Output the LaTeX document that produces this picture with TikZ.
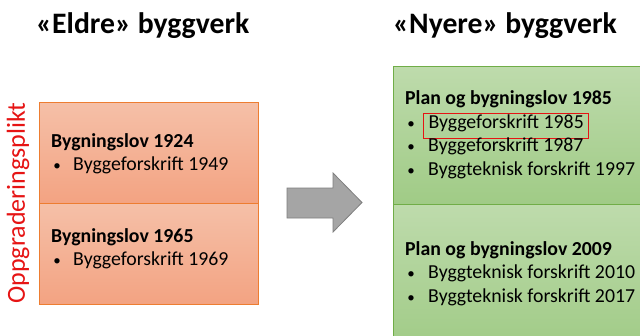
\documentclass[tikz,border=0pt]{standalone}
\usepackage{fontspec}
\setmainfont{Carlito}
\definecolor{orfill1}{RGB}{245,192,168}
\definecolor{orfill2}{RGB}{243,163,130}
\definecolor{orline}{RGB}{237,125,49}
\definecolor{grfill1}{RGB}{190,219,172}
\definecolor{grfill2}{RGB}{160,203,134}
\definecolor{grline}{RGB}{112,173,71}
\definecolor{arfill}{RGB}{165,165,165}
\definecolor{arline}{RGB}{127,127,127}
\definecolor{redmark}{RGB}{230,20,20}
\begin{document}
\begin{tikzpicture}[x=1pt,y=-1pt,
  title/.style={font=\fontsize{29.7}{34}\selectfont\bfseries, anchor=base west, inner sep=0pt},
  head/.style={font=\fontsize{19.8}{23}\selectfont\bfseries, anchor=base west, inner sep=0pt},
  item/.style={font=\fontsize{19.8}{23}\selectfont, anchor=base west, inner sep=0pt},
  bul/.style={font=\fontsize{15}{18}\selectfont, anchor=base, inner sep=0pt},
  obox/.style={draw=orline, line width=0.8pt, top color=orfill1, bottom color=orfill2},
  gbox/.style={draw=grline, line width=0.8pt, top color=grfill1, bottom color=grfill2},
]
\useasboundingbox (0,0) rectangle (640,335);
\fill[white] (0,0) rectangle (640,335);
\begin{scope}
\clip (0,0) rectangle (640,335);
% titles
\node[title] (t1) at (36,33) {«Eldre» byggverk};
\node[title] (t2) at (393,33) {«Nyere» byggverk};
% left boxes
\path[obox] (39,102) rectangle (258,203);
\path[obox] (39,203) rectangle (258,304);
\node[head] (h1) at (51,147) {Bygningslov 1924};
\node[bul] (b1) at (57,170) {•};
\node[item] (i1) at (73,170) {Byggeforskrift 1949};
\node[head] (h2) at (51,242) {Bygningslov 1965};
\node[bul] (b2) at (57,265) {•};
\node[item] (i2) at (73,265) {Byggeforskrift 1969};
\node[rotate=90, text=redmark, font=\fontsize{26}{30}\selectfont, inner sep=0pt] (op) at (18,203) {Oppgraderingsplikt};
% arrow
\draw[arline, fill=arfill, line width=0.8pt] (287,188) -- (333,188) -- (333,173) -- (362,202.5) -- (333,232) -- (333,218) -- (287,218) -- cycle;
% right boxes
\path[gbox] (393,66) rectangle (660,204);
\path[gbox] (393,204) rectangle (660,350);
\node[head] (h3) at (405,104) {Plan og bygningslov 1985};
\node[bul] (b3) at (411,128) {•};
\node[item, draw=redmark, line width=1pt, inner xsep=5pt, inner ysep=3pt, text height=12pt, text depth=7pt, anchor=base west] (i3) at (423,128) {Byggeforskrift 1985};
\node[bul] (b4) at (411,151) {•};
\node[item] (i4) at (428,151) {Byggeforskrift 1987};
\node[bul] (b5) at (411,175) {•};
\node[item] (i5) at (428,175) {Byggteknisk forskrift 1997};
\node[head] (h4) at (405,255) {Plan og bygningslov 2009};
\node[bul] (b6) at (411,278) {•};
\node[item] (i6) at (428,278) {Byggteknisk forskrift 2010};
\node[bul] (b7) at (411,302) {•};
\node[item] (i7) at (428,302) {Byggteknisk forskrift 2017};
\end{scope}
\end{tikzpicture}
\end{document}
